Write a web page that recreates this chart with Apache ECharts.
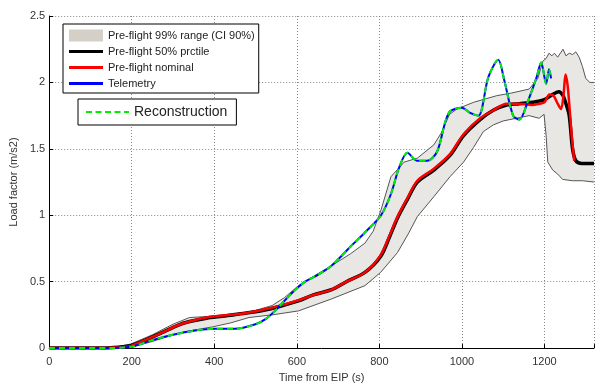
<!DOCTYPE html>
<html>
<head>
<meta charset="utf-8">
<script src="https://cdn.jsdelivr.net/npm/echarts@6/dist/echarts.min.js"></script>
<style>
html,body{margin:0;padding:0;background:#fff;}
#c{width:597px;height:388px;}
</style>
</head>
<body>
<div id="c"></div>
<script>
// ---- Data ----
const xTicks = [0, 200, 400, 600, 800, 1000, 1200];
const yTicks = [0, 0.5, 1, 1.5, 2, 2.5];

// Pre-flight 99% range: upper and lower bounds
const tUpper = [0,150,197,250,300,340,396,440,484,540,570,604,640,684,730,765,785,804,828,860,892,932,950,970,988,1028,1084,1120,1163,1184,1196,1204,1211,1218,1224,1232,1245,1252,1260,1268,1276,1284,1292,1300,1310,1320];
const upper  = [0,0.003,0.03,0.10,0.18,0.23,0.24,0.25,0.27,0.32,0.38,0.47,0.54,0.62,0.71,0.79,0.88,1.04,1.29,1.40,1.43,1.53,1.62,1.76,1.80,1.85,1.90,1.92,1.95,2.03,2.16,2.18,2.22,2.20,2.22,2.19,2.25,2.20,2.22,2.21,2.23,2.19,2.12,2.03,2.00,2.00];
const tLower = [0,150,197,250,300,340,396,440,484,540,604,684,765,803,844,870,892,932,971,1004,1028,1052,1076,1100,1163,1187,1199,1204,1208,1220,1232,1244,1268,1292,1320];
const lower  = [0,0,0.005,0.05,0.10,0.13,0.16,0.19,0.23,0.25,0.28,0.37,0.47,0.57,0.72,0.86,0.99,1.14,1.29,1.40,1.51,1.63,1.68,1.71,1.75,1.73,1.76,1.60,1.40,1.34,1.31,1.27,1.26,1.26,1.25];

// Pre-flight 50% percentile
const tMedian = [0,100,150,197,240,276,310,340,381,420,470,520,560,604,640,684,720,765,803,825,844,868,892,932,971,1004,1044,1076,1108,1139,1170,1200,1220,1235,1245,1252,1260,1268,1276,1290,1305,1320];
const median  = [0,0,0.003,0.018,0.07,0.12,0.17,0.20,0.225,0.24,0.26,0.285,0.315,0.355,0.40,0.44,0.50,0.57,0.69,0.84,0.98,1.12,1.25,1.34,1.45,1.60,1.72,1.79,1.83,1.84,1.85,1.87,1.91,1.93,1.90,1.84,1.75,1.50,1.41,1.39,1.39,1.39];

// Pre-flight nominal
const tNominal = [0,100,150,197,240,276,310,340,381,420,470,520,560,604,640,684,720,765,803,825,844,868,892,932,971,1004,1044,1076,1108,1139,1170,1188,1200,1212,1222,1232,1240,1246,1251,1256,1261,1266,1272];
const nominal  = [0,0,0.003,0.015,0.07,0.12,0.17,0.20,0.23,0.245,0.26,0.29,0.32,0.36,0.40,0.44,0.50,0.57,0.70,0.85,0.99,1.13,1.26,1.35,1.46,1.61,1.73,1.79,1.84,1.84,1.83,1.84,1.85,1.91,1.90,1.84,1.80,1.90,2.06,1.98,1.80,1.60,1.41];

// Telemetry (and reconstruction, which overlays it)
const tTelemetry = [0,150,180,200,250,300,350,400,450,500,525,550,590,620,650,684,732,765,804,828,848,868,892,916,940,968,1000,1020,1040,1064,1088,1103,1124,1139,1160,1180,1192,1204,1211,1216];
const telemetry  = [0,0,0.005,0.01,0.06,0.10,0.13,0.145,0.145,0.18,0.22,0.29,0.42,0.50,0.55,0.62,0.77,0.87,1.00,1.16,1.36,1.47,1.41,1.41,1.48,1.77,1.81,1.77,1.75,2.04,2.17,2.01,1.75,1.72,1.86,2.03,2.15,1.99,2.10,2.03];
const reconstruction = telemetry.slice();

const names = {
  band: 'Pre-flight 99% range (CI 90%)',
  median: 'Pre-flight 50% prctile',
  nominal: 'Pre-flight nominal',
  telemetry: 'Telemetry',
  recon: 'Reconstruction'
};

// ---- Build series data ----
const pairs = (t, v) => t.map((x, i) => [x, v[i]]);
const upperData = pairs(tUpper, upper);
const lowerData = pairs(tLower, lower);

const FONT = 'Liberation Sans, Arial, sans-serif';
const chart = echarts.init(document.getElementById('c'), null, {renderer: 'canvas'});

const clearIcon = {icon: 'rect', itemStyle: {color: 'rgba(0,0,0,0)', borderWidth: 0}};
const L1 = {left: 63, top: 24, pad: [5, 4, 3, 6], ih: 13, gap: 3, iw: 34};
const rowY = k => L1.top + L1.pad[0] + L1.ih / 2 + k * (L1.ih + L1.gap);
const L2 = {left: 78, top: 99, pad: [6, 9, 6, 8], ih: 14, iw: 43};
const iconX1 = L1.left + L1.pad[3];

chart.setOption({
  animation: false,
  backgroundColor: '#ffffff',
  grid: {left: 48, right: 1, top: 16, bottom: 34, containLabel: false},
  xAxis: {
    type: 'value', min: 0, max: 1320, interval: 200,
    name: 'Time from EIP (s)', nameLocation: 'middle', nameGap: 22,
    nameTextStyle: {fontFamily: FONT, fontSize: 11, color: '#333'},
    axisLine: {show: true, lineStyle: {color: '#000', width: 1}},
    axisTick: {show: true, inside: true, length: 4, lineStyle: {color: '#000'}},
    axisLabel: {
      fontFamily: FONT, fontSize: 11, color: '#333', margin: 8,
      formatter: v => xTicks.indexOf(v) >= 0 ? String(v) : ''
    },
    splitLine: {show: true, lineStyle: {color: '#888', type: [1, 2], width: 1}}
  },
  yAxis: {
    type: 'value', min: 0, max: 2.5, interval: 0.5,
    name: 'Load factor (m/s2)', nameLocation: 'middle', nameGap: 24,
    nameTextStyle: {fontFamily: FONT, fontSize: 11, color: '#333'},
    axisLine: {show: true, lineStyle: {color: '#000', width: 1}},
    axisTick: {show: true, inside: true, length: 4, lineStyle: {color: '#000'}},
    axisLabel: {
      fontFamily: FONT, fontSize: 11, color: '#333', margin: 4,
      formatter: v => yTicks.indexOf(v) >= 0 ? String(v) : ''
    },
    splitLine: {show: true, lineStyle: {color: '#888', type: [1, 2], width: 1}}
  },
  legend: [
    {
      left: L1.left, top: L1.top, orient: 'vertical',
      padding: L1.pad, itemGap: L1.gap, itemWidth: L1.iw, itemHeight: L1.ih,
      backgroundColor: '#fff', borderColor: '#000', borderWidth: 1,
      textStyle: {fontFamily: FONT, fontSize: 11, color: '#222'},
      selectedMode: false,
      data: [names.band, names.median, names.nominal, names.telemetry].map(n => Object.assign({name: n}, clearIcon))
    },
    {
      left: L2.left, top: L2.top, orient: 'horizontal',
      padding: L2.pad, itemWidth: L2.iw, itemHeight: L2.ih,
      backgroundColor: '#fff', borderColor: '#000', borderWidth: 1,
      textStyle: {fontFamily: FONT, fontSize: 14, color: '#222'},
      selectedMode: false,
      data: [Object.assign({name: names.recon}, clearIcon)]
    }
  ],
  graphic: [
    {type: 'rect', z: 100, shape: {x: iconX1, y: rowY(0) - 6, width: L1.iw, height: 12}, style: {fill: '#d4d0c8'}},
    {type: 'line', z: 100, shape: {x1: iconX1, y1: rowY(1), x2: iconX1 + L1.iw, y2: rowY(1)}, style: {stroke: '#000', lineWidth: 3}},
    {type: 'line', z: 100, shape: {x1: iconX1, y1: rowY(2), x2: iconX1 + L1.iw, y2: rowY(2)}, style: {stroke: '#ff0000', lineWidth: 3}},
    {type: 'line', z: 100, shape: {x1: iconX1, y1: rowY(3), x2: iconX1 + L1.iw, y2: rowY(3)}, style: {stroke: '#0000ff', lineWidth: 3}},
    {type: 'line', z: 100, shape: {x1: L2.left + L2.pad[3], y1: L2.top + L2.pad[0] + L2.ih / 2, x2: L2.left + L2.pad[3] + L2.iw, y2: L2.top + L2.pad[0] + L2.ih / 2}, style: {stroke: '#00ee00', lineWidth: 2, lineDash: [6, 3.5]}}
  ],
  series: [
    {
      name: names.band,
      type: 'custom',
      z: 1,
      itemStyle: {color: '#d4d0c8'},
      data: upperData,
      encode: {x: 0, y: 1},
      renderItem: function (params, api) {
        if (params.dataIndex !== 0) return null;
        const pts = [];
        upperData.forEach(p => pts.push(api.coord(p)));
        for (let i = lowerData.length - 1; i >= 0; i--) pts.push(api.coord(lowerData[i]));
        return {
          type: 'polygon',
          shape: {points: pts},
          style: {fill: '#e8e7e4', stroke: null}
        };
      }
    },
    {
      name: 'upperEdge', type: 'line', data: upperData, z: 2,
      showSymbol: false, symbol: 'none', silent: true,
      lineStyle: {color: '#555', width: 1}
    },
    {
      name: 'lowerEdge', type: 'line', data: lowerData, z: 2,
      showSymbol: false, symbol: 'none', silent: true,
      lineStyle: {color: '#555', width: 1}
    },
    {
      name: names.median, type: 'line', data: pairs(tMedian, median), z: 3,
      showSymbol: false, symbol: 'none', smooth: 0.3,
      itemStyle: {color: '#000'},
      lineStyle: {color: '#000', width: 3.5}
    },
    {
      name: names.nominal, type: 'line', data: pairs(tNominal, nominal), z: 4,
      showSymbol: false, symbol: 'none', smooth: 0.3,
      itemStyle: {color: '#ff0000'},
      lineStyle: {color: '#ff0000', width: 2.5}
    },
    {
      name: names.telemetry, type: 'line', data: pairs(tTelemetry, telemetry), z: 5,
      showSymbol: false, symbol: 'none', smooth: 0.3,
      itemStyle: {color: '#0000ff'},
      lineStyle: {color: '#0000ff', width: 2}
    },
    {
      name: names.recon, type: 'line', data: pairs(tTelemetry, reconstruction), z: 6,
      showSymbol: false, symbol: 'none', smooth: 0.3,
      itemStyle: {color: '#00ee00'},
      lineStyle: {color: '#00ee00', width: 2, type: [6, 4]}
    }
  ]
});
</script>
</body>
</html>
